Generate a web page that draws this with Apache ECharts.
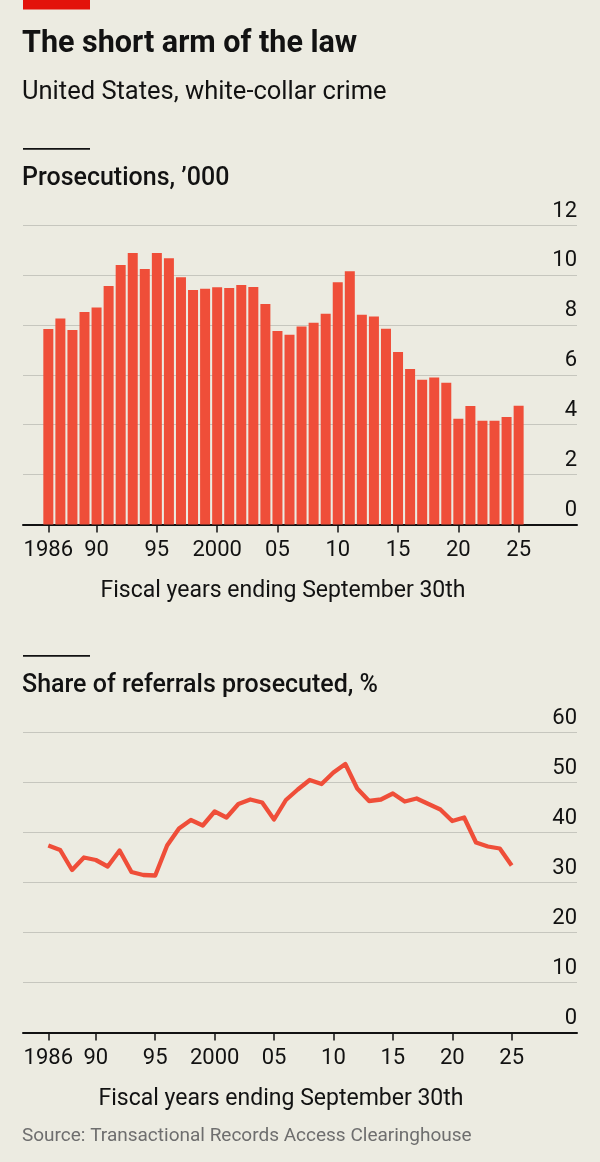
<!DOCTYPE html>
<html>
<head>
<meta charset="utf-8">
<script src="https://cdn.jsdelivr.net/npm/echarts@6/dist/echarts.min.js"></script>
<style>
html,body{margin:0;padding:0;background:#ecebe1;}
#chart{width:600px;height:1162px;}
</style>
</head>
<body>
<div id="chart"></div>
<script>
// ---- data ----
var years = [];
for (var y = 1986; y <= 2025; y++) years.push(y);
var prosecutions = [7.83,8.25,7.79,8.51,8.69,9.56,10.4,10.88,10.24,10.88,
                    10.67,9.91,9.4,9.45,9.51,9.48,9.6,9.52,8.83,7.75,
                    7.6,7.93,8.08,8.44,9.71,10.15,8.4,8.33,7.84,6.91,
                    6.23,5.8,5.89,5.68,4.24,4.75,4.16,4.16,4.31,4.76];
var shareProsecuted = [37.4,36.5,32.5,35.0,34.5,33.2,36.4,32.1,31.5,31.4,
                       37.4,40.8,42.5,41.4,44.2,43.0,45.7,46.6,46.0,42.6,
                       46.5,48.6,50.5,49.7,52.0,53.7,48.8,46.3,46.6,47.8,
                       46.2,46.8,45.7,44.6,42.3,43.0,38.0,37.2,36.8,33.4];
var yearTicks = [1986,1990,1995,2000,2005,2010,2015,2020,2025];
var yearTickLabels = ['1986','90','95','2000','05','10','15','20','25'];

var FONT = 'Roboto, "Noto Sans", sans-serif';
var INK = '#121212';
var RED = '#ef4e39';

function pairs(xs, vs){ return xs.map(function(x,i){ return [x, vs[i]]; }); }
function yearLabel(v){ var i = yearTicks.indexOf(Math.round(v)); return i >= 0 ? yearTickLabels[i] : ''; }

function xAxisFor(gridIndex, min, max){
  return {
    type:'value', gridIndex:gridIndex, min:min, max:max,
    splitLine:{show:false},
    axisLine:{show:true, onZero:false, lineStyle:{color:INK, width:2}},
    axisTick:{show:true, length:8, lineStyle:{color:INK, width:1.5}, customValues:yearTicks},
    axisLabel:{show:true, customValues:yearTicks, formatter:yearLabel, margin:15,
               color:INK, fontFamily:FONT, fontSize:22}
  };
}
function yAxisFor(gridIndex, max, interval){
  return {
    type:'value', gridIndex:gridIndex, position:'right', min:0, max:max, interval:interval,
    axisLine:{show:false}, axisTick:{show:false},
    splitLine:{show:true, lineStyle:{color:'#c6c6be', width:1}},
    axisLabel:{inside:true, margin:0, align:'right', verticalAlign:'bottom', lineHeight:22,
               padding:[0,0,3,0], color:INK, fontFamily:FONT, fontSize:22}
  };
}

function txt(x, y, text, size, weight, color, align){
  return {type:'text', x:x, y:y, silent:true,
          style:{text:text, fontFamily:FONT, fontSize:size, fontWeight:weight||'normal',
                 fill:color||INK, align:align||'left', verticalAlign:'middle'}};
}

var chart = echarts.init(document.getElementById('chart'), null, {renderer:'canvas'});
chart.setOption({
  backgroundColor:'#ecebe1',
  animation:false,
  grid:[
    {left:23, right:23, top:225, height:299.5},
    {left:23, right:23, top:732.5, height:300}
  ],
  xAxis:[ xAxisFor(0, 1983.9, 2029.84), xAxisFor(1, 1983.87, 2030.5) ],
  yAxis:[ yAxisFor(0, 12, 2), yAxisFor(1, 60, 10) ],
  series:[
    {type:'bar', xAxisIndex:0, yAxisIndex:0, data:pairs(years, prosecutions),
     barWidth:10, itemStyle:{color:RED}},
    {type:'line', xAxisIndex:1, yAxisIndex:1, data:pairs(years, shareProsecuted),
     symbol:'none', lineStyle:{color:RED, width:4.3, join:'round'}}
  ],
  graphic:[
    {type:'rect', shape:{x:23, y:0, width:67, height:9.5}, style:{fill:'#e3120b'}, silent:true},
    txt(22, 44, 'The short arm of the law', 30.5, 'bold'),
    txt(22, 93, 'United States, white-collar crime', 25.5, 'normal'),
    {type:'rect', shape:{x:23, y:148, width:67, height:1.8}, style:{fill:INK}, silent:true},
    txt(22, 178.5, 'Prosecutions, \u2019000', 25, 500),
    txt(283, 591.5, 'Fiscal years ending September 30th', 23, 'normal', INK, 'center'),
    {type:'rect', shape:{x:23, y:655, width:67, height:1.8}, style:{fill:INK}, silent:true},
    txt(22, 686, 'Share of referrals prosecuted, %', 25, 500),
    txt(281, 1099.5, 'Fiscal years ending September 30th', 23, 'normal', INK, 'center'),
    txt(22, 1135.8, 'Source: Transactional Records Access Clearinghouse', 19, 'normal', '#6e6e6e')
  ]
});
</script>
</body>
</html>
